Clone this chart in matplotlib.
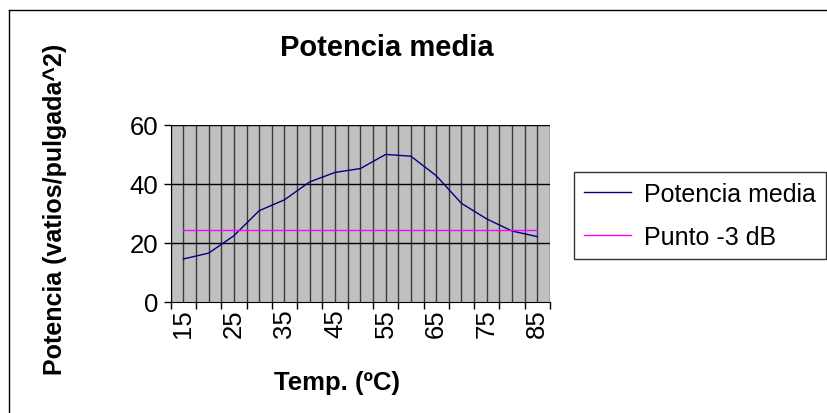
import matplotlib
matplotlib.use("Agg")
import matplotlib.pyplot as plt
from matplotlib.lines import Line2D

# datos
temps = [15, 20, 25, 30, 35, 40, 45, 50, 55, 60, 65, 70, 75, 80, 85]
potencia_media = [14.5, 16.5, 22.4, 30.9, 34.6, 40.7, 43.9, 45.2, 50.0, 49.4, 42.8, 33.4, 28.1, 24.0, 22.1]
punto_3db = [24.5] * len(temps)
yticks = [0, 20, 40, 60]

plt.rcParams['font.family'] = ['Liberation Sans', 'DejaVu Sans']

fig = plt.figure(figsize=(8.27, 4.14), dpi=100)
ax = fig.add_axes([0.2064, 0.2688, 0.4586, 0.4269])
ax.set_facecolor('#c0c0c0')

x = list(range(len(temps)))
ax.plot(x, potencia_media, color='#000080', lw=1, label='Potencia media')
ax.plot(x, punto_3db, color='#ff00ff', lw=1, label='Punto -3 dB')

ax.set_xlim(-0.5, len(temps) - 0.5)
ax.set_ylim(0, 60)

# rejilla vertical en bordes y centros de categoría
for k in range(2 * len(temps) + 1):
    ax.axvline(-0.5 + k * 0.5, color='#3a3a3a', lw=1, zorder=0.5)
for v in yticks[1:]:
    ax.axhline(v, color='black', lw=1, zorder=0.5)

ax.set_xticks([i - 0.5 for i in range(len(temps) + 1)])
ax.set_xticklabels([])
ax.set_xticks(x[::2], minor=True)
ax.set_xticklabels([str(t) for t in temps[::2]], minor=True, rotation=90, fontsize=18.5)
ax.tick_params(axis='x', which='minor', length=0, pad=5)
ax.tick_params(axis='x', which='major', length=5, width=1)
ax.set_yticks(yticks)
ax.tick_params(axis='y', labelsize=18.5, length=5, width=1, pad=4)

for side in ['top', 'right']:
    ax.spines[side].set_visible(False)

fig.text(0.468, 0.884, 'Potencia media', ha='center', va='center', fontsize=21, fontweight='bold')
fig.text(0.066, 0.495, 'Potencia (vatios/pulgada^2)', ha='center', va='center', rotation=90,
         fontsize=18, fontweight='bold')
fig.text(0.407, 0.075, 'Temp. (ºC)', ha='center', va='center', fontsize=18.5, fontweight='bold')

leg = ax.legend(loc='upper left', bbox_to_anchor=(0.694, 0.582), bbox_transform=fig.transFigure,
                fontsize=18, frameon=True, fancybox=False, edgecolor='black', borderpad=0.4,
                borderaxespad=0, handlelength=1.9, handletextpad=0.5, labelspacing=0.75)
leg.get_frame().set_linewidth(1)

# borde del área del gráfico
fig.add_artist(Line2D([0.011, 1.0], [0.973, 0.973], color='black', lw=1, transform=fig.transFigure))
fig.add_artist(Line2D([0.011, 0.011], [0.0, 0.973], color='black', lw=1, transform=fig.transFigure))

fig.savefig('out.png', dpi=100)
